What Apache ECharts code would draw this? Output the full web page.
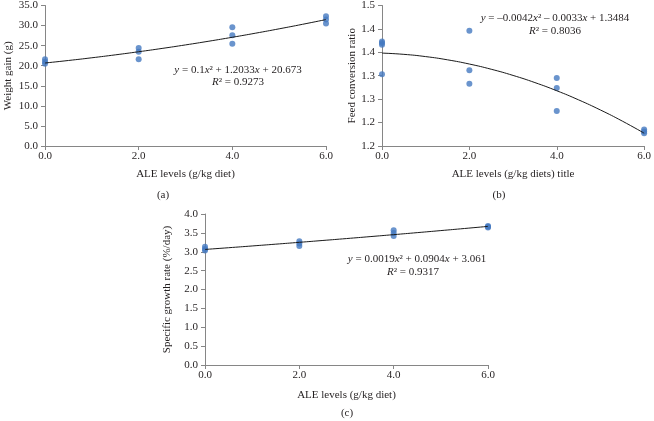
<!DOCTYPE html>
<html>
<head>
<meta charset="utf-8">
<script src="https://cdn.jsdelivr.net/npm/echarts@6/dist/echarts.min.js"></script>
<style>html,body{margin:0;padding:0;background:#fff}#c{width:654px;height:421px}</style>
</head>
<body>
<div id="c"></div>
<script>
// ---- data ----
const xTicks = ['0.0', '2.0', '4.0', '6.0'];
const levelsA = [0, 0, 0, 2, 2, 2, 4, 4, 4, 6, 6, 6];
const weightGain = [21.6, 21.0, 20.5, 24.4, 23.5, 21.6, 29.6, 27.6, 25.5, 32.3, 31.5, 30.5];
const coefA = [0.1, 1.2033, 20.673];

const levelsB = [0, 0, 0, 0, 2, 2, 2, 4, 4, 4, 6, 6, 6];
const fcr = [1.373, 1.370, 1.366, 1.303, 1.396, 1.312, 1.283, 1.295, 1.274, 1.225, 1.185, 1.181, 1.177];
const coefB = [-0.0042, -0.0033, 1.3484];
const yTicksB = ['1.2', '1.2', '1.3', '1.3', '1.4', '1.4', '1.5'];

const levelsC = [0, 0, 0, 2, 2, 2, 4, 4, 4, 6, 6, 6];
const sgr = [3.13, 3.07, 3.03, 3.28, 3.22, 3.15, 3.57, 3.50, 3.42, 3.68, 3.66, 3.64];
const coefC = [0.0019, 0.0904, 3.061];

const trendX = [0, 0.5, 1, 1.5, 2, 2.5, 3, 3.5, 4, 4.5, 5, 5.5, 6];

function trend(c) { return trendX.map(x => [x, c[0] * x * x + c[1] * x + c[2]]); }
function pairs(xs, ys) { return xs.map((x, i) => [x, ys[i]]); }

const FONT = 'Liberation Serif';
const TXT = '#231f20';
const AX = '#868686';
const DOT = '#4579c0';

function xAx(gi, gap) {
  return {
    gridIndex: gi, type: 'value', min: 0, max: 6, interval: 2,
    name: gi === 1 ? 'ALE levels (g/kg diets) title' : 'ALE levels (g/kg diet)',
    nameLocation: 'middle', nameGap: gap,
    nameTextStyle: { fontFamily: FONT, fontSize: 11, color: TXT },
    axisLine: { lineStyle: { color: AX, width: 1 } },
    axisTick: { show: true, length: 4, lineStyle: { color: AX } },
    splitLine: { show: false },
    axisLabel: { fontFamily: FONT, fontSize: 11, color: TXT, margin: 5,
      formatter: v => xTicks[Math.round(v / 2)] }
  };
}
function yAx(gi, min, max, interval, name, gap, fmt) {
  return {
    gridIndex: gi, type: 'value', min: min, max: max, interval: interval,
    name: name, nameLocation: 'middle', nameGap: gap, nameRotate: 90,
    nameTextStyle: { fontFamily: FONT, fontSize: 11, color: TXT },
    axisLine: { show: true, lineStyle: { color: AX, width: 1 } },
    axisTick: { show: true, length: 4, lineStyle: { color: AX } },
    splitLine: { show: false },
    axisLabel: { fontFamily: FONT, fontSize: 11, color: TXT, margin: 7, formatter: fmt }
  };
}

const rich = { i: { fontFamily: FONT, fontSize: 11, fontStyle: 'italic', fill: TXT, color: TXT } };
function eq(text, x, y) {
  return { type: 'text', style: { text: text, x: x, y: y, align: 'center', verticalAlign: 'middle',
    font: '11px ' + FONT, fill: TXT, rich: rich } };
}

const chart = echarts.init(document.getElementById('c'), null, { renderer: 'canvas' });
chart.setOption({
  backgroundColor: '#fff',
  animation: false,
  grid: [
    { left: 45, top: 4, width: 281, height: 142 },
    { left: 382, top: 4, width: 266, height: 142 },
    { left: 205, top: 214, width: 283, height: 151 }
  ],
  xAxis: [xAx(0, 23), xAx(1, 23), xAx(2, 25)],
  yAxis: [
    yAx(0, 0, 35, 5, 'Weight gain (g)', 31, v => v.toFixed(1)),
    yAx(1, 1.15, 1.45, 0.05, 'Feed conversion ratio', 24, v => yTicksB[Math.round((v - 1.15) / 0.05)]),
    yAx(2, 0, 4, 0.5, 'Specific growth rate (%/day)', 32, v => v.toFixed(1))
  ],
  series: [
    { type: 'scatter', xAxisIndex: 0, yAxisIndex: 0, data: pairs(levelsA, weightGain), symbolSize: 6, clip: false, itemStyle: { color: DOT } },
    { type: 'line', xAxisIndex: 0, yAxisIndex: 0, data: trend(coefA), smooth: true, showSymbol: false, z: 5, lineStyle: { color: '#1a1a1a', width: 1 } },
    { type: 'scatter', xAxisIndex: 1, yAxisIndex: 1, data: pairs(levelsB, fcr), symbolSize: 6, clip: false, itemStyle: { color: DOT } },
    { type: 'line', xAxisIndex: 1, yAxisIndex: 1, data: trend(coefB), smooth: true, showSymbol: false, z: 5, lineStyle: { color: '#1a1a1a', width: 1 } },
    { type: 'scatter', xAxisIndex: 2, yAxisIndex: 2, data: pairs(levelsC, sgr), symbolSize: 6, clip: false, itemStyle: { color: DOT } },
    { type: 'line', xAxisIndex: 2, yAxisIndex: 2, data: trend(coefC), smooth: true, showSymbol: false, z: 5, lineStyle: { color: '#1a1a1a', width: 1 } }
  ],
  graphic: [
    eq('{i|y} = 0.1{i|x}² + 1.2033{i|x} + 20.673', 238, 70),
    eq('{i|R}² = 0.9273', 238, 82),
    eq('{i|y} = –0.0042{i|x}² – 0.0033{i|x} + 1.3484', 555, 18),
    eq('{i|R}² = 0.8036', 555, 31),
    eq('{i|y} = 0.0019{i|x}² + 0.0904{i|x} + 3.061', 417, 259),
    eq('{i|R}² = 0.9317', 413, 272),
    eq('(a)', 163, 195),
    eq('(b)', 499, 195),
    eq('(c)', 347, 413)
  ]
});
</script>
</body>
</html>
